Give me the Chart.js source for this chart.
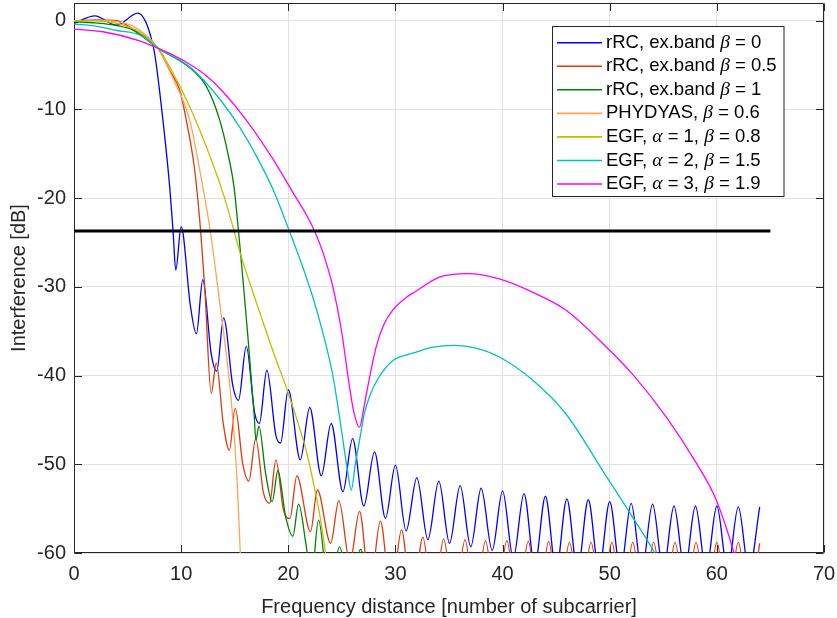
<!DOCTYPE html>
<html>
<head>
<meta charset="utf-8">
<script src="https://cdn.jsdelivr.net/npm/chart.js@4.4.0/dist/chart.umd.min.js"></script>
<style>
  html, body { margin: 0; padding: 0; background: #fff; }
</style>
</head>
<body>
<canvas id="chart" width="837" height="618"></canvas>
<script>
// ----------------------
// data
// ----------------------
const xTickValues = [0, 10, 20, 30, 40, 50, 60, 70];
const yTickValues = [-60, -50, -40, -30, -20, -10, 0];

const seriesLabels = [
  'rRC, ex.band β = 0',
  'rRC, ex.band β = 0.5',
  'rRC, ex.band β = 1',
  'PHYDYAS, β = 0.6',
  'EGF, α = 1, β = 0.8',
  'EGF, α = 2, β = 1.5',
  'EGF, α = 3, β = 1.9'
];

// rRC, beta = 0
const rrc0X = [0, 1.95, 3.95, 5.97, 6.6, 7.1, 7.53, 8.3, 8.93, 9.24, 9.5, 10.0, 10.86, 11.42, 12.02, 12.8, 13.32, 13.97, 14.83,
  15.35, 16.08, 16.86, 17.3, 18.0, 18.85, 19.28, 20.0, 21.12, 22.0, 23.08, 24.0, 25.1, 26.0, 27.05, 28.05, 29.07, 30.0, 31.0, 32.0,
  33.03, 34.05, 35.05, 36.04, 37.03, 38.0, 39.03, 40.0, 41, 42, 43, 44, 45, 46, 47, 48, 49, 50, 51, 52, 53, 54, 55, 56, 57, 58, 59, 60, 61, 62, 63, 64];
const rrc0Y = [-0.3, 0.55, -0.5, 0.85, 0.1, -1.5, -3.7, -11.2, -18.7, -23.6, -28.1, -23.2, -32.1, -35.3, -29.2, -37.5, -39.5, -33.5, -41.2,
  -42.8, -36.7, -44.2, -45.4, -39.4, -46.8, -47.6, -41.6, -49.5, -43.6, -51.3, -45.4, -53.1, -47.1, -54.7, -48.6, -56.1, -50.1, -57.5, -51.5,
  -58.5, -51.9, -58.9, -52.4, -59.3, -52.7, -59.7, -53.0, -60.6, -53.3, -61.5, -53.6, -62, -53.9, -62, -54.0, -62, -54.2, -62, -54.4,
  -62, -54.5, -62, -54.7, -62, -54.7, -62, -54.7, -62, -54.8, -62, -54.8];

// rRC, beta = 0.5
const rrc05X = [0, 2, 4, 5.82, 7.84, 8.93, 9.86, 10.48, 11.26, 11.82, 12.2, 12.81, 13.28, 13.93, 14.5, 15.05, 15.77, 16.32, 16.96, 17.68,
  18.26, 18.84, 19.56, 20.15, 20.8, 22.07, 22.72, 23.95, 24.72, 25.75, 26.65, 27.62, 28.6, 29.6, 30.57, 31.56, 32.56, 33.53, 34.5, 35.5,
  36.5, 37.45, 38.4, 39.4, 40.4, 41.4, 42.4, 43.35, 44.3, 45.27, 46.24, 47.25, 48.26, 49.23, 50.2, 51.17, 52.15, 53.12, 54.1, 55.1,
  56.1, 57.08, 58.06, 59.03, 60, 61, 62, 63, 64];
const rrc05Y = [0, 0.1, 0, -1.24, -3.1, -5.6, -7.8, -11.2, -16.8, -23.7, -30.0, -42.0, -38.6, -45.4, -48.4, -43.7, -50.1, -51.9, -47.1, -53.2,
  -54.4, -49.5, -55.2, -56.1, -51.3, -57.6, -52.9, -58.9, -54.1, -61, -55.3, -64, -56.4, -65, -57.4, -66, -58.2, -66, -58.4, -66,
  -58.5, -66, -58.6, -66, -58.6, -66, -58.7, -66, -58.7, -66, -58.8, -66, -58.8, -66, -58.8, -66, -58.8, -66, -58.8, -66,
  -58.8, -66, -58.8, -66, -58.8, -66, -58.8, -66, -58.9];

// rRC, beta = 1
const rrc1X = [0, 2, 4, 5.5, 7.84, 10.8, 12.35, 13.6, 14.37, 14.93, 15.3, 15.77, 16.23, 16.55, 16.82, 16.97, 17.26, 17.88, 18.5, 19.03,
  19.75, 20.43, 20.96, 21.65, 22.15, 22.82, 23.8, 24.79, 25.75, 26.74, 27.7];
const rrc1Y = [-0.1, -0.25, -0.55, -1.05, -3.1, -5.3, -7.4, -11.2, -15.0, -18.7, -23.0, -29.2, -35.6, -40.5, -44.5, -47.3, -45.7, -51.0, -54.2, -50.7,
  -55.9, -58.1, -54.5, -59.0, -63.0, -56.3, -64.5, -59.3, -64.5, -59.6, -66];

// PHYDYAS, beta = 0.6
const phyX = [0, 2, 4, 5.5, 6.7, 7.84, 9.24, 10.8, 11.73, 12.72, 13.6, 14.52, 15.15, 15.52, 15.75];
const phyY = [0, 0.05, -0.1, -0.6, -1.6, -3.1, -6.5, -11.2, -16.8, -23.7, -31.8, -40.9, -50.3, -60, -67];

// EGF, alpha = 1
const egf1X = [0, 2, 4, 6, 7.84, 9.24, 10.8, 12.35, 13.9, 14.85, 15.46, 17, 18.5, 20, 21, 21.68, 22.3, 22.92, 23.48, 23.8];
const egf1Y = [0, 0, -0.3, -1.2, -3.1, -5.9, -9.7, -14.2, -19.4, -23.3, -26.0, -31.7, -37.0, -42.0, -45.7, -48.5, -51.8, -55.6, -60, -63];

// EGF, alpha = 2
const egf2X = [0, 2, 4, 6.13, 7.84, 10.8, 12.4, 13.9, 15.46, 17.0, 18.57, 20.1, 21.3, 22.3, 23.3, 24.16, 24.7, 25.1, 25.5, 25.88,
  26.25, 26.65, 27.1, 27.6, 28.3, 29.76, 31.2, 31.78, 33.5, 35.5, 37.5, 39.7, 42.8, 45.9, 49.7, 52.1, 54.2, 55];
const egf2Y = [-0.37, -0.6, -1.1, -1.6, -3.1, -5.2, -7.1, -9.3, -12.0, -15.2, -19.0, -23.7, -27.6, -31.2, -35.5, -40, -44, -47.3, -50.5, -52.9,
  -50, -47.3, -44.3, -42.3, -40.5, -38.3, -37.6, -37.4, -36.8, -36.6, -36.9, -37.9, -40.5, -44.3, -51.4, -55.9, -60, -62];

// EGF, alpha = 3
const egf3X = [0, 2.7, 6.13, 7.84, 9.3, 10.8, 12.35, 13.9, 16.08, 18.57, 20.75, 21.7, 22.56, 23.2, 24.16, 25, 25.56, 26.1, 26.65, 27.0,
  27.3, 28.2, 28.9, 29.76, 31, 31.78, 34.1, 36.75, 39.7, 42.8, 45.9, 49.7, 52.1, 55.3, 58.1, 59.9, 61.6, 62.2];
const egf3Y = [-0.94, -1.24, -2.26, -3.1, -3.9, -4.9, -6.2, -8.0, -11.2, -15.6, -20.0, -21.9, -24.0, -26.0, -30.0, -35.2, -40, -44, -45.8, -44,
  -42, -36.8, -34.3, -32.6, -31.2, -30.6, -28.9, -28.5, -29.1, -30.6, -32.6, -36.8, -39.8, -44.7, -49.9, -53.9, -60, -63];

// black threshold line
const limitX = [0, 65];
const limitY = [-23.7, -23.7];

// ----------------------
// styles
// ----------------------
const FONT = '"Liberation Sans", Arial, Helvetica, sans-serif';
const GREEK = '"Liberation Serif", "DejaVu Serif", serif';
const INK = '#262626';
const GRID = '#e2e2e2';
const colors = ['#0000ff', '#dc3a0f', '#008000', '#ffa552', '#c2bd00', '#00bfbf', '#ff00ff'];

function pts(xs, ys) {
  return xs.map((x, i) => ({ x: x, y: ys[i] }));
}

function curve(i, xs, ys) {
  return {
    label: seriesLabels[i],
    data: pts(xs, ys),
    borderColor: colors[i],
    backgroundColor: colors[i],
    borderWidth: 1.3,
    pointRadius: 0,
    fill: false,
    cubicInterpolationMode: 'monotone',
    clip: 0,
    order: 10 - i
  };
}

// box round the axes + inward tick marks (matlab style)
const axesBox = {
  id: 'axesBox',
  beforeDatasetsDraw(chart) {
    const { ctx, chartArea: a, scales } = chart;
    const tick = 7.5;
    const L = Math.round(a.left) + 0.5, R = Math.round(a.right) - 0.5;
    const T = Math.round(a.top) + 0.5, B = Math.round(a.bottom) - 0.5;
    ctx.save();
    ctx.strokeStyle = INK;
    ctx.lineWidth = 1;
    ctx.beginPath();
    ctx.rect(L, T, R - L, B - T);
    xTickValues.forEach(v => {
      const px = Math.round(scales.x.getPixelForValue(v)) + 0.5;
      ctx.moveTo(px, B); ctx.lineTo(px, B - tick);
      ctx.moveTo(px, T); ctx.lineTo(px, T + tick);
    });
    yTickValues.forEach(v => {
      const py = Math.round(scales.y.getPixelForValue(v)) + 0.5;
      ctx.moveTo(L, py); ctx.lineTo(L + tick, py);
      ctx.moveTo(R, py); ctx.lineTo(R - tick, py);
    });
    ctx.stroke();
    ctx.restore();
  }
};

// legend box in the upper right with italic greek letters
const boxLegend = {
  id: 'boxLegend',
  afterDatasetsDraw(chart) {
    const { ctx } = chart;
    const L = 552.5, T = 26.5, W = 231.5, H = 170;
    const size = 18.5;
    ctx.save();
    ctx.fillStyle = '#fff';
    ctx.fillRect(L, T, W, H);
    ctx.strokeStyle = INK;
    ctx.lineWidth = 1;
    ctx.strokeRect(L, T, W, H);
    ctx.textBaseline = 'middle';
    ctx.fillStyle = '#000';
    chart.data.datasets.filter(d => d.label).forEach((d, i) => {
      const yy = T + 16.2 + i * 23.55;
      ctx.strokeStyle = d.borderColor;
      ctx.lineWidth = 1.6;
      ctx.beginPath();
      ctx.moveTo(L + 4.5, yy);
      ctx.lineTo(L + 49.5, yy);
      ctx.stroke();
      let tx = L + 53.5;
      d.label.split(/([αβ])/).forEach(p => {
        if (!p) return;
        ctx.font = /[αβ]/.test(p) ? `italic ${size + 1}px ${GREEK}` : `${size}px ${FONT}`;
        ctx.fillText(p, tx, yy);
        tx += ctx.measureText(p).width;
      });
    });
    ctx.restore();
  }
};

new Chart(document.getElementById('chart'), {
  type: 'line',
  data: {
    datasets: [
      curve(0, rrc0X, rrc0Y),
      curve(1, rrc05X, rrc05Y),
      curve(2, rrc1X, rrc1Y),
      curve(3, phyX, phyY),
      curve(4, egf1X, egf1Y),
      curve(5, egf2X, egf2Y),
      curve(6, egf3X, egf3Y),
      {
        data: pts(limitX, limitY),
        borderColor: '#000',
        borderWidth: 3,
        pointRadius: 0,
        tension: 0,
        clip: 0,
        order: 0
      }
    ]
  },
  options: {
    responsive: false,
    animation: false,
    devicePixelRatio: 1,
    layout: { padding: { left: 0, right: 13, top: 3, bottom: 0 } },
    plugins: { legend: { display: false }, tooltip: { enabled: false } },
    scales: {
      x: {
        type: 'linear',
        min: 0,
        max: 70,
        afterBuildTicks: s => { s.ticks = xTickValues.map(v => ({ value: v })); },
        afterFit: s => { s.height = 65; s.paddingLeft = 0; s.paddingRight = 0; },
        grid: { color: GRID, lineWidth: 1, drawTicks: false },
        border: { display: false },
        ticks: { color: INK, font: { family: FONT, size: 20 }, padding: 9, maxRotation: 0, autoSkip: false },
        title: {
          display: true,
          text: 'Frequency distance [number of subcarrier]',
          color: INK,
          font: { family: FONT, size: 20, lineHeight: 1.1 },
          padding: { top: 0, bottom: 0 }
        }
      },
      y: {
        type: 'linear',
        min: -60,
        max: 2,
        afterBuildTicks: s => { s.ticks = yTickValues.map(v => ({ value: v })); },
        afterFit: s => { s.width = 74; s.paddingTop = 0; s.paddingBottom = 0; },
        grid: { color: GRID, lineWidth: 1, drawTicks: false },
        border: { display: false },
        ticks: { color: INK, font: { family: FONT, size: 20 }, padding: 8, autoSkip: false },
        title: {
          display: true,
          text: 'Interference [dB]',
          color: INK,
          font: { family: FONT, size: 20, lineHeight: 1.1 },
          padding: { top: 8, bottom: 0 }
        }
      }
    }
  },
  plugins: [axesBox, boxLegend]
});
</script>
</body>
</html>
